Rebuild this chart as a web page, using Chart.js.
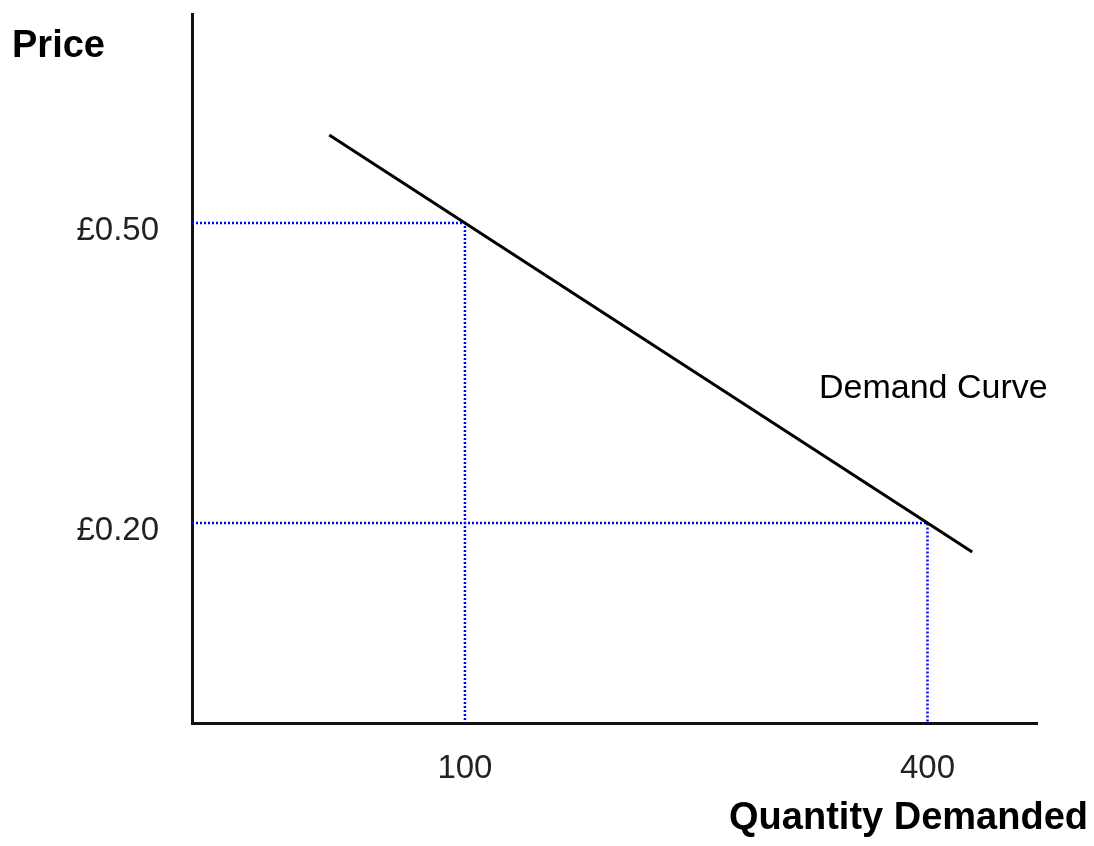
<!DOCTYPE html>
<html>
<head>
<meta charset="utf-8">
<script src="https://cdn.jsdelivr.net/npm/chart.js@4"></script>
<style>
  body { margin: 0; background: #fff; }
  canvas { display: block; }
</style>
</head>
<body>
<canvas id="chart" width="1094" height="846"></canvas>
<script>
// demand curve end points (quantity, price)
const curveQty = [12, 429];
const curvePrice = [0.588, 0.171];

// the two read-off points on the curve
const markQty = [100, 400];
const markPrice = [0.5, 0.2];

// tick labels
const qtyTicks = [100, 400];
const priceTicks = [0.2, 0.5];

const xMin = -77, xMax = 471;
const yMin = 0, yMax = 0.709;

const font = "'Liberation Sans', Arial, sans-serif";

const guides = markQty.map((q, i) => ({
    data: [{ x: xMin, y: markPrice[i] }, { x: q, y: markPrice[i] }, { x: q, y: yMin }],
    borderColor: '#0000ff',
    borderWidth: 2.5,
    borderDash: [2, 2],
    pointRadius: 0,
    clip: false
}));

const labels = {
    id: 'labels',
    afterDraw(c) {
        const ctx = c.ctx;
        ctx.save();
        ctx.fillStyle = '#000';
        ctx.textBaseline = 'alphabetic';
        ctx.font = 'bold 38px ' + font;
        ctx.textAlign = 'left';
        ctx.fillText('Price', 12, 57);
        ctx.textAlign = 'right';
        ctx.fillText('Quantity Demanded', 1088, 829);
        ctx.font = '34px ' + font;
        ctx.textAlign = 'left';
        ctx.fillText('Demand Curve', 819, 398);
        ctx.restore();
    }
};

new Chart(document.getElementById('chart'), {
    type: 'line',
    data: {
        datasets: [
            {
                data: curveQty.map((q, i) => ({ x: q, y: curvePrice[i] })),
                borderColor: '#000',
                borderWidth: 3,
                pointRadius: 0
            },
            ...guides
        ]
    },
    options: {
        responsive: false,
        animation: false,
        layout: { padding: { top: 14, right: 57, left: 0, bottom: 0 } },
        plugins: { legend: { display: false }, tooltip: { enabled: false } },
        scales: {
            x: {
                type: 'linear',
                min: xMin,
                max: xMax,
                grid: { display: false, drawTicks: false },
                border: { color: '#111', width: 3 },
                afterBuildTicks: s => { s.ticks = qtyTicks.map(v => ({ value: v })); },
                afterFit: s => { s.height = 123; s.paddingLeft = 0; s.paddingRight = 0; },
                ticks: {
                    color: '#222',
                    padding: 26,
                    maxRotation: 0,
                    font: { family: font, size: 33 }
                }
            },
            y: {
                type: 'linear',
                min: yMin,
                max: yMax,
                grid: { display: false, drawTicks: false },
                border: { color: '#111', width: 3 },
                afterBuildTicks: s => { s.ticks = priceTicks.map(v => ({ value: v })); },
                afterFit: s => { s.width = 192; s.paddingTop = 0; s.paddingBottom = 0; },
                ticks: {
                    color: '#222',
                    padding: 33,
                    labelOffset: 8,
                    font: { family: font, size: 33 },
                    callback: v => '£' + v.toFixed(2)
                }
            }
        }
    },
    plugins: [labels]
});
</script>
</body>
</html>
